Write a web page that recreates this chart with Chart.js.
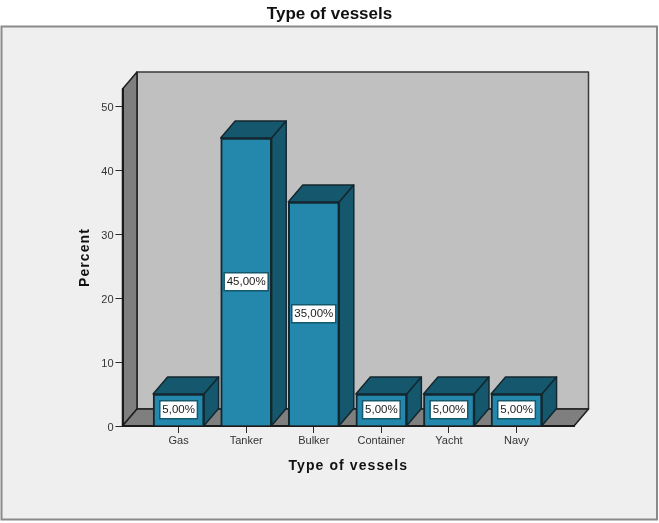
<!DOCTYPE html>
<html lang="en">
<head>
    <meta charset="UTF-8">
    <title>Type of vessels</title>
    <script src="https://cdn.jsdelivr.net/npm/chart.js"></script>
    <style>
        html, body { margin: 0; padding: 0; background: #ffffff; }
        #wrap { width: 659px; height: 523px; position: relative; }
    </style>
</head>
<body>
    <div id="wrap"><canvas id="vesselsChart" width="659" height="523"></canvas></div>
    <script>
        const categories = ['Gas', 'Tanker', 'Bulker', 'Container', 'Yacht', 'Navy'];
        const percents = [5, 45, 35, 5, 5, 5];
        const barLabels = ['5,00%', '45,00%', '35,00%', '5,00%', '5,00%', '5,00%'];
        const yTicksStep = 10;

        // Depth of the fake 3D box, in pixels
        const depthX = 14.5;
        const depthY = 17;

        const outline = '#14272f';
        const barFront = '#2388ac';
        const barDark = '#15586e';
        const sans = '"Liberation Sans", Arial, sans-serif';

        function poly(ctx, pts, fill, stroke, lw) {
            ctx.beginPath();
            pts.forEach((p, i) => i ? ctx.lineTo(p[0], p[1]) : ctx.moveTo(p[0], p[1]));
            ctx.closePath();
            ctx.fillStyle = fill;
            ctx.fill();
            ctx.lineJoin = 'round';
            ctx.lineWidth = lw;
            ctx.strokeStyle = stroke;
            ctx.stroke();
        }

        // Axis titles are spaced out a little wider than the font's default
        function spaceTitle(scale) {
            const drawTitle = scale.drawTitle;
            scale.drawTitle = function (area) {
                this.ctx.letterSpacing = '1.1px';
                drawTitle.call(this, area);
                this.ctx.letterSpacing = '0px';
            };
        }

        // Outer frame plus back wall, side wall and floor
        const backdrop = {
            id: 'backdrop',
            beforeDraw(chart) {
                const { ctx, chartArea: a } = chart;
                ctx.save();
                ctx.fillStyle = '#efefef';
                ctx.fillRect(1, 26, 656, 494);
                ctx.lineWidth = 2;
                ctx.strokeStyle = '#8a8a8a';
                ctx.strokeRect(1.5, 26.5, 655.5, 493);

                poly(ctx, [[a.left + depthX, a.top - depthY], [a.right + depthX, a.top - depthY],
                    [a.right + depthX, a.bottom - depthY], [a.left + depthX, a.bottom - depthY]], '#c0c0c0', '#3a3a3a', 1.5);
                poly(ctx, [[a.left, a.top], [a.left + depthX, a.top - depthY],
                    [a.left + depthX, a.bottom - depthY], [a.left, a.bottom]], '#7f7f7f', '#1e1e1e', 1.5);
                poly(ctx, [[a.left, a.bottom], [a.left + depthX, a.bottom - depthY],
                    [a.right + depthX, a.bottom - depthY], [a.right, a.bottom]], '#7f7f7f', '#1e1e1e', 1.5);
                ctx.restore();
            }
        };

        // Top and side faces of each bar, taken from the bar elements
        const barFaces = {
            id: 'barFaces',
            beforeDatasetsDraw(chart) {
                const { ctx } = chart;
                ctx.save();
                chart.getDatasetMeta(0).data.forEach(bar => {
                    const l = bar.x - bar.width / 2;
                    const r = bar.x + bar.width / 2;
                    const t = bar.y;
                    const b = bar.base;
                    poly(ctx, [[l, t], [l + depthX, t - depthY], [r + depthX, t - depthY], [r, t]], barDark, outline, 1.5);
                    poly(ctx, [[r, t], [r + depthX, t - depthY], [r + depthX, b - depthY], [r, b]], barDark, outline, 1.5);
                });
                ctx.restore();
            }
        };

        // White value boxes centred on the bars
        const valueBoxes = {
            id: 'valueBoxes',
            afterDatasetsDraw(chart) {
                const { ctx } = chart;
                ctx.save();
                ctx.font = '11.5px ' + sans;
                ctx.textAlign = 'center';
                ctx.textBaseline = 'middle';
                chart.getDatasetMeta(0).data.forEach((bar, i) => {
                    const cy = (bar.y + bar.base) / 2;
                    const w = ctx.measureText(barLabels[i]).width + 5;
                    const h = 18;
                    ctx.fillStyle = '#ffffff';
                    ctx.fillRect(bar.x - w / 2, cy - h / 2, w, h);
                    ctx.lineWidth = 1.5;
                    ctx.strokeStyle = barDark;
                    ctx.strokeRect(bar.x - w / 2, cy - h / 2, w, h);
                    ctx.fillStyle = '#1c1c1c';
                    ctx.fillText(barLabels[i], bar.x, cy + 0.5);
                });
                ctx.restore();
            }
        };

        new Chart(document.getElementById('vesselsChart'), {
            type: 'bar',
            data: {
                datasets: [{
                    data: percents.map((v, i) => ({ x: i, y: v })),
                    backgroundColor: barFront,
                    borderColor: outline,
                    borderWidth: 2,
                    barThickness: 51
                }]
            },
            options: {
                responsive: false,
                animation: false,
                plugins: {
                    legend: { display: false },
                    tooltip: { enabled: false },
                    title: {
                        display: true,
                        text: 'Type of vessels',
                        color: '#111111',
                        font: { family: sans, size: 17, weight: 'bold' },
                        padding: { top: 4, bottom: 64.6 }
                    }
                },
                scales: {
                    x: {
                        type: 'linear',
                        offset: false,
                        min: -0.83,
                        max: 5.85,
                        grid: { display: true, offset: false, drawOnChartArea: false, drawTicks: true, tickLength: 7, color: '#2a2a2a' },
                        border: { display: true, color: '#1a1a1a', width: 2 },
                        ticks: {
                            stepSize: 1,
                            includeBounds: false,
                            autoSkip: false,
                            maxRotation: 0,
                            padding: 1,
                            color: '#333333',
                            font: { family: sans, size: 11 },
                            callback: value => categories[value]
                        },
                        title: {
                            display: true,
                            text: 'Type of vessels',
                            color: '#111111',
                            font: { family: sans, size: 14, weight: 'bold' },
                            padding: { top: 0, bottom: 48 }
                        },
                        afterFit: scale => { scale.height = 97; spaceTitle(scale); }
                    },
                    y: {
                        min: 0,
                        max: 52.66,
                        grid: { display: true, drawOnChartArea: false, drawTicks: true, tickLength: 7, color: '#2a2a2a' },
                        border: { display: true, color: '#1a1a1a', width: 2 },
                        ticks: {
                            stepSize: yTicksStep,
                            includeBounds: false,
                            padding: 2,
                            labelOffset: 1.5,
                            color: '#333333',
                            font: { family: sans, size: 11 }
                        },
                        title: {
                            display: true,
                            text: 'Percent',
                            color: '#111111',
                            font: { family: sans, size: 14, weight: 'bold' },
                            padding: { top: 77, bottom: 0 }
                        },
                        afterFit: scale => { scale.width = 122.5; spaceTitle(scale); }
                    },
                    // empty axis that only reserves the space right of the floor
                    rightGap: {
                        position: 'right',
                        grid: { display: false },
                        border: { display: false },
                        ticks: { display: false },
                        afterFit: scale => { scale.width = 85; }
                    }
                }
            },
            plugins: [backdrop, barFaces, valueBoxes]
        });
    </script>
</body>
</html>
